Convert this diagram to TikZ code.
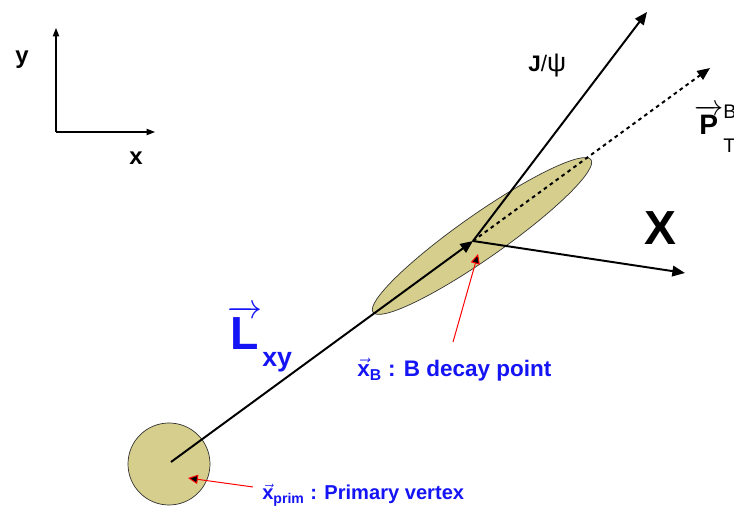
\documentclass[tikz,border=0pt]{standalone}
\usepackage{amsmath}
\usepackage{fontspec}
\setmainfont{Liberation Sans}
\usetikzlibrary{arrows.meta,shapes.geometric}
\definecolor{vtxfill}{RGB}{214,206,140}
\definecolor{lblue}{RGB}{20,20,245}
\begin{document}
\begin{tikzpicture}[x=0.025cm,y=0.025cm,
  trk/.style={line width=1.4pt,-{Triangle[length=9pt,width=7.5pt]}},
  axis/.style={line width=0.9pt,-{Triangle[length=6pt,width=4.5pt]}},
  ptr/.style={red,line width=0.7pt,-{Triangle[length=7pt,width=6.5pt,fill=black]}},
  vtx/.style={draw=black!80,line width=0.5pt,fill=vtxfill,inner sep=0pt},
  axlbl/.style={font=\bfseries\fontsize{17}{18}\selectfont,inner sep=0pt},
  blbl/.style={lblue,font=\bfseries\fontsize{16}{18}\selectfont,anchor=base west,inner sep=0pt}]
\useasboundingbox (0,0) rectangle (734,511);
% axes
\coordinate (o) at (56,379);
\coordinate (yend) at (56,483);
\coordinate (xend) at (155,379);
\draw[axis] (o) -- (yend);
\draw[axis] (o) -- (xend);
\node[axlbl] (ylbl) at (22,451) {y};
\node[axlbl] (xlbl) at (136,353) {x};
% vertices
\node[vtx,circle,minimum size=2.05cm] (pvtx) at (169,47) {};
\node[vtx,ellipse,minimum width=6.65cm,minimum height=1.1cm,rotate=35] (bvtx) at (482,275) {};
\coordinate (pv) at (171,49);
\coordinate (dv) at (473,270);
\coordinate (jend) at (647,499);
\coordinate (pend) at (710,443);
\coordinate (xtrk) at (685,238);
% tracks
\draw[trk] (pv) -- (dv);
\draw[trk] (dv) -- (jend);
\draw[trk] (dv) -- (xtrk);
\draw[trk,dash pattern=on 2.6pt off 2.6pt] (dv) -- (pend);
% pointers
\coordinate (dvptr) at (453,169);
\coordinate (dvtip) at (478,257);
\coordinate (pvptr) at (253,24);
\coordinate (pvtip) at (188,33);
\draw[ptr] (dvptr) -- (dvtip);
\draw[ptr] (pvptr) -- (pvtip);
% labels
\node[anchor=base west,inner sep=0pt,font=\fontsize{16}{18}\selectfont] (jlbl) at (528,439)
  {\textbf{J}/\fontsize{19}{20}\selectfont ψ};
\node[font=\bfseries\fontsize{34}{36}\selectfont] (xlblbig) at (660,283) {X};
\node[anchor=base west,inner sep=0pt,font=\bfseries\fontsize{20}{22}\selectfont] (ptlbl) at (694,376)
  {$\overrightarrow{\text{P}}$\rlap{\raisebox{12pt}{\mdseries\fontsize{14}{15}\selectfont B}}\raisebox{-12.8pt}{\mdseries\fontsize{14}{15}\selectfont T}};
\node[blbl] (lxy) at (227,161)
  {{\fontsize{33}{36}\selectfont$\overrightarrow{\text{L}}$}\raisebox{-12pt}{\fontsize{19}{20}\selectfont xy}};
\node[blbl] (dvlbl) at (357,134) {$\vec{\text{x}}_{\text{B}}$ : B decay point};
\node[blbl,font=\bfseries\fontsize{14.3}{17}\selectfont] (pvlbl) at (262,11) {$\vec{\text{x}}_{\text{prim}}$ : Primary vertex};
\end{tikzpicture}
\end{document}
